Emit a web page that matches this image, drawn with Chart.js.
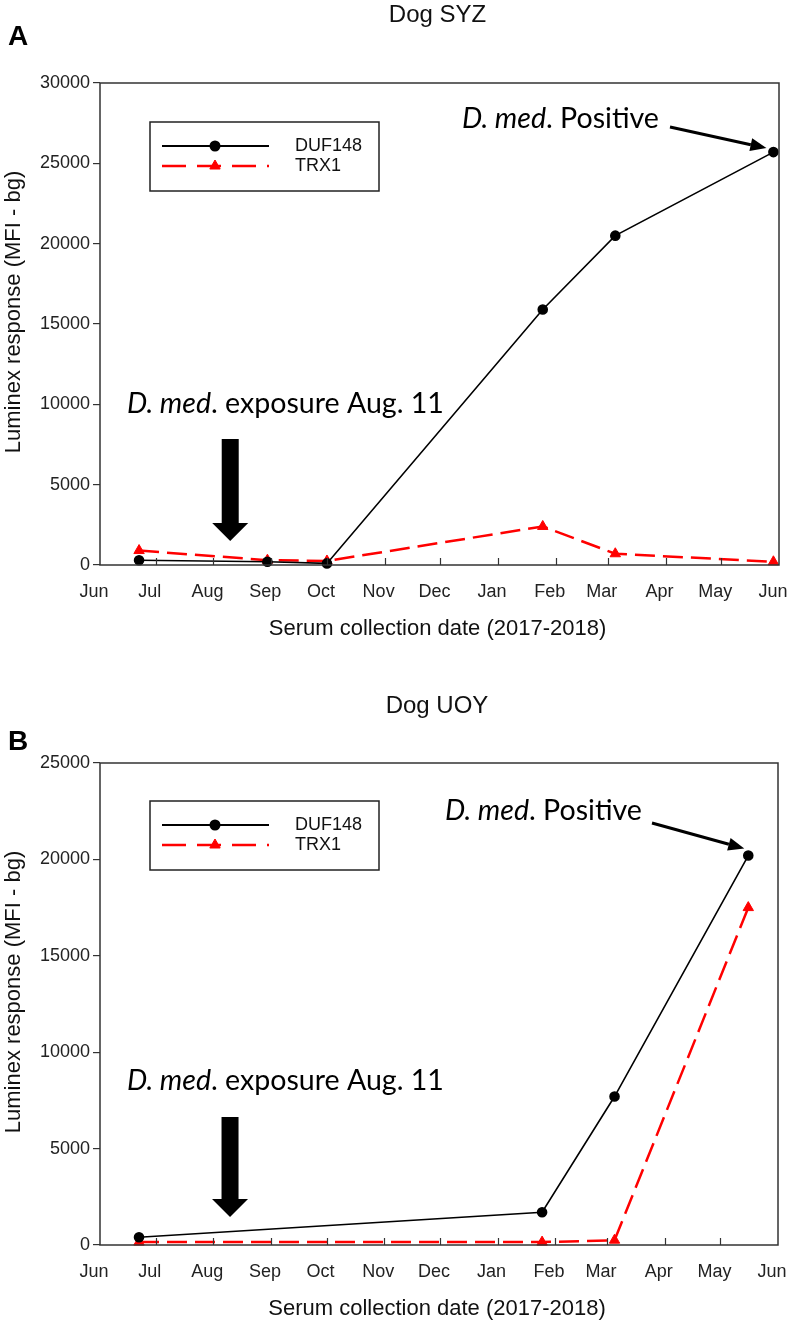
<!DOCTYPE html>
<html>
<head>
<meta charset="utf-8">
<script src="https://cdn.jsdelivr.net/npm/chart.js@4.4.1/dist/chart.umd.min.js"></script>
<style>
  html, body { margin: 0; padding: 0; background: #fff; }
  canvas { display: block; }
</style>
</head>
<body>
<canvas id="chart-syz" width="789" height="662"></canvas>
<canvas id="chart-uoy" width="789" height="661"></canvas>
<script>
// x axis: days counted from 1 Jun 2017
const monthLabels = ['Jun', 'Jul', 'Aug', 'Sep', 'Oct', 'Nov', 'Dec', 'Jan', 'Feb', 'Mar', 'Apr', 'May', 'Jun'];
const monthStartDays = [0, 30, 61, 92, 122, 153, 183, 214, 245, 273, 304, 334, 365];

// Dog SYZ
const syzDays = [21, 90, 122, 238, 277, 362];
const syzDuf148 = [300, 200, 100, 15900, 20500, 25700];
const syzTrx1 = [900, 300, 250, 2400, 700, 200];

// Dog UOY
const uoyDays = [21, 238, 277, 349];
const uoyDuf148 = [400, 1700, 7700, 20200];
const uoyTrx1 = [150, 150, 250, 17500];

const seriesNames = ['DUF148', 'TRX1'];
const exposureDay = 70; // Aug 11 arrow

const AXIS_FONT = '"Liberation Sans", Arial, sans-serif';
const NOTE_FONT = 'Lato, "Open Sans", sans-serif';
const RED = '#ff0000';

function drawRich(ctx, parts, x, y, size) {
  parts.forEach(p => {
    ctx.font = (p.italic ? 'italic ' : '') + size + 'px ' + NOTE_FONT;
    ctx.fillText(p.t, x, y);
    x += ctx.measureText(p.t).width;
  });
}

function richWidth(ctx, parts, size) {
  let w = 0;
  parts.forEach(p => {
    ctx.font = (p.italic ? 'italic ' : '') + size + 'px ' + NOTE_FONT;
    w += ctx.measureText(p.t).width;
  });
  return w;
}

function lineArrow(ctx, x1, y1, x2, y2) {
  const a = Math.atan2(y2 - y1, x2 - x1), hl = 16, hw = 6.5;
  const bx = x2 - hl * Math.cos(a), by = y2 - hl * Math.sin(a);
  ctx.lineWidth = 3;
  ctx.beginPath(); ctx.moveTo(x1, y1); ctx.lineTo(bx, by); ctx.stroke();
  ctx.beginPath();
  ctx.moveTo(x2, y2);
  ctx.lineTo(bx - hw * Math.sin(a), by + hw * Math.cos(a));
  ctx.lineTo(bx + hw * Math.sin(a), by - hw * Math.cos(a));
  ctx.closePath(); ctx.fill();
}

function blockArrow(ctx, cx, yTop, yHead, yTip) {
  ctx.beginPath();
  ctx.moveTo(cx - 8.5, yTop); ctx.lineTo(cx + 8.5, yTop);
  ctx.lineTo(cx + 8.5, yHead); ctx.lineTo(cx + 18, yHead);
  ctx.lineTo(cx, yTip);
  ctx.lineTo(cx - 18, yHead); ctx.lineTo(cx - 8.5, yHead);
  ctx.closePath(); ctx.fill();
}

const exposureParts = [{ t: 'D. med', italic: true }, { t: '. exposure Aug. 11' }];
const positiveParts = [{ t: 'D. med', italic: true }, { t: '. Positive' }];

const decorPlugin = {
  id: 'decor',
  afterDraw(chart, args, o) {
    const ctx = chart.ctx;
    const { left, right, top, bottom } = chart.chartArea;
    const xs = chart.scales.x;
    ctx.save();

    // frame
    ctx.strokeStyle = '#333';
    ctx.lineWidth = 1.5;
    ctx.strokeRect(left, top, right - left, bottom - top);

    // month ticks, pointing inward
    ctx.lineWidth = 1.2;
    monthStartDays.slice(1, -1).forEach(d => {
      const x = Math.round(xs.getPixelForValue(d)) + 0.5;
      ctx.beginPath(); ctx.moveTo(x, bottom); ctx.lineTo(x, bottom - 7); ctx.stroke();
    });

    // titles
    ctx.fillStyle = '#111';
    ctx.textBaseline = 'alphabetic';
    ctx.textAlign = 'center';
    ctx.font = '24px ' + AXIS_FONT;
    ctx.fillText(o.title, (left + right) / 2 - 2, o.titleY);
    ctx.font = '22px ' + AXIS_FONT;
    ctx.fillText('Serum collection date (2017-2018)', (left + right) / 2 - 2, bottom + 70);
    ctx.save();
    ctx.translate(14, (top + bottom) / 2 - 12);
    ctx.rotate(-Math.PI / 2);
    ctx.textBaseline = 'middle';
    ctx.font = '22px ' + AXIS_FONT;
    ctx.fillText('Luminex response (MFI - bg)', 0, 0);
    ctx.restore();

    ctx.textAlign = 'left';
    ctx.fillStyle = '#000';
    ctx.font = 'bold 28px ' + AXIS_FONT;
    ctx.fillText(o.panel, 8, o.panelY);

    // legend box
    const bx = left + 50, by = top + o.legendTop;
    ctx.strokeStyle = '#222';
    ctx.lineWidth = 1.5;
    ctx.strokeRect(bx, by, 229, 69);
    const rows = [by + 24, by + 44];
    ctx.strokeStyle = '#000'; ctx.fillStyle = '#000'; ctx.lineWidth = 2;
    ctx.beginPath(); ctx.moveTo(bx + 12, rows[0]); ctx.lineTo(bx + 119, rows[0]); ctx.stroke();
    Chart.helpers.drawPoint(ctx, { pointStyle: 'circle', radius: 4.5, borderWidth: 1 }, bx + 65, rows[0]);
    ctx.strokeStyle = RED; ctx.fillStyle = RED; ctx.lineWidth = 2.5;
    ctx.setLineDash([24, 11]);
    ctx.beginPath(); ctx.moveTo(bx + 12, rows[1]); ctx.lineTo(bx + 119, rows[1]); ctx.stroke();
    ctx.setLineDash([]);
    ctx.lineWidth = 1;
    Chart.helpers.drawPoint(ctx, { pointStyle: 'triangle', radius: 6, borderWidth: 1 }, bx + 65, rows[1]);
    ctx.fillStyle = '#111';
    ctx.textBaseline = 'middle';
    ctx.font = '18px ' + AXIS_FONT;
    ctx.fillText(seriesNames[0], bx + 145, rows[0]);
    ctx.fillText(seriesNames[1], bx + 145, rows[1]);

    // annotations
    const size = 22 * 317 / richWidth(ctx, exposureParts, 22);
    ctx.textBaseline = 'alphabetic';
    ctx.fillStyle = '#000'; ctx.strokeStyle = '#000';
    drawRich(ctx, exposureParts, left + 27, bottom - o.exposure[0], size);
    blockArrow(ctx, xs.getPixelForValue(exposureDay), bottom - o.exposure[1], bottom - o.exposure[2], bottom - o.exposure[3]);

    drawRich(ctx, positiveParts, left + o.positive[0], top + o.positive[1], size);
    const pts = chart.getDatasetMeta(0).data;
    const last = pts[pts.length - 1];
    lineArrow(ctx, left + o.positive[2], top + o.positive[3], last.x + o.tip[0], last.y + o.tip[1]);

    ctx.restore();
  }
};

function makeChart(id, days, duf, trx, yMax, pad, axisH, deco) {
  return new Chart(document.getElementById(id), {
    type: 'line',
    data: {
      datasets: [
        {
          label: seriesNames[0],
          data: days.map((d, i) => ({ x: d, y: duf[i] })),
          borderColor: '#000',
          borderWidth: 1.6,
          pointStyle: 'circle',
          pointRadius: 4.5,
          pointBackgroundColor: '#000',
          pointBorderColor: '#000',
          tension: 0,
          clip: false
        },
        {
          label: seriesNames[1],
          data: days.map((d, i) => ({ x: d, y: trx[i] })),
          borderColor: RED,
          borderWidth: 2.5,
          borderDash: [20, 8],
          pointStyle: 'triangle',
          pointRadius: 6,
          pointBackgroundColor: RED,
          pointBorderColor: RED,
          pointBorderWidth: 1,
          tension: 0,
          clip: false
        }
      ]
    },
    options: {
      responsive: false,
      animation: false,
      events: [],
      layout: { padding: pad },
      plugins: {
        legend: { display: false },
        tooltip: { enabled: false },
        decor: deco
      },
      scales: {
        x: {
          type: 'linear',
          min: 0,
          max: 365,
          border: { display: false },
          grid: { display: false },
          afterBuildTicks: (s) => { s.ticks = monthStartDays.map(v => ({ value: v })); },
          afterFit: (s) => { s.height = axisH; s.paddingLeft = 0; s.paddingRight = 0; },
          ticks: {
            autoSkip: false,
            maxRotation: 0,
            minRotation: 0,
            padding: 8,
            labelOffset: -6,
            color: '#222',
            font: { family: AXIS_FONT, size: 18 },
            callback: (v, i) => monthLabels[i]
          }
        },
        y: {
          min: 0,
          max: yMax,
          border: { display: false },
          grid: { drawOnChartArea: false, drawTicks: true, tickLength: 7, color: '#333', lineWidth: 1.2 },
          afterFit: (s) => { s.width = 100; s.paddingTop = 0; s.paddingBottom = 0; },
          ticks: {
            stepSize: 5000,
            padding: 3,
            color: '#222',
            font: { family: AXIS_FONT, size: 18 },
            callback: (v) => String(v)
          }
        }
      }
    },
    plugins: [decorPlugin]
  });
}

makeChart('chart-syz', syzDays, syzDuf148, syzTrx1, 30000,
  { top: 83, right: 10, bottom: 17, left: 0 }, 80,
  {
    title: 'Dog SYZ', titleY: 22, panel: 'A', panelY: 45, legendTop: 39,
    exposure: [152, 126, 42, 24],
    positive: [362, 45, 570, 44],
    tip: [-7, -4]
  });

makeChart('chart-uoy', uoyDays, uoyDuf148, uoyTrx1, 25000,
  { top: 101, right: 11, bottom: 0, left: 0 }, 78,
  {
    title: 'Dog UOY', titleY: 51, panel: 'B', panelY: 88, legendTop: 38,
    exposure: [155, 128, 46, 28],
    positive: [345, 57, 552, 60],
    tip: [-4, -7]
  });
</script>
</body>
</html>
